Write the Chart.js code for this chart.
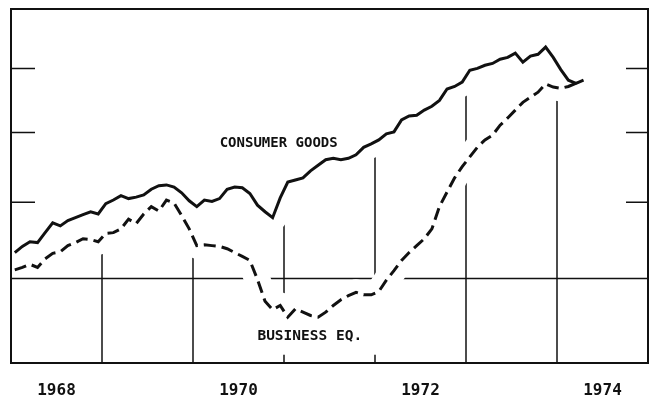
<!DOCTYPE html>
<html>
<head>
<meta charset="utf-8">
<script src="https://cdn.jsdelivr.net/npm/chart.js@4.4.1/dist/chart.umd.min.js"></script>
<style>
  html, body { margin: 0; padding: 0; background: #fff; }
  #wrap { width: 653px; height: 401px; }
</style>
</head>
<body>
<div id="wrap"><canvas id="chart" width="653" height="401"></canvas></div>
<script>
// ---- data ----
const years = [1968, 1969, 1970, 1971, 1972, 1973, 1974];
const monthNames = ["Jan", "Feb", "Mar", "Apr", "May", "Jun", "Jul", "Aug", "Sep", "Oct", "Nov", "Dec"];
const months = [];
years.forEach((y) => monthNames.forEach((m) => months.push(m + " " + y)));

const yearLabels = ["1968", "1970", "1972", "1974"];
const sideTicks = [110, 120, 130];
const baseValue = 100;

// index, ratio scale
const consumerGoods = [
    103.3, 104.1, 104.7, 104.6, 105.9, 107.2, 106.8, 107.5, 107.9, 108.3, 108.7, 108.4,
    109.8, 110.3, 110.9, 110.5, 110.7, 111.0, 111.8, 112.3, 112.4, 112.1, 111.3, 110.2,
    109.4, 110.3, 110.1, 110.5, 111.8, 112.1, 112.0, 111.2, 109.6, 108.7, 107.9, 110.6,
    112.8, 113.1, 113.4, 114.4, 115.2, 116.0, 116.2, 116.0, 116.2, 116.7, 117.8, 118.3,
    118.9, 119.8, 120.1, 121.9, 122.5, 122.6, 123.4, 124.0, 124.9, 126.7, 127.1, 127.8,
    129.7, 130.0, 130.5, 130.8, 131.5, 131.8, 132.5, 131.0, 132.0, 132.3, 133.5, 131.8,
    129.8, 128.1, 127.6, 128.1
];
const businessEq = [
    101.1, 101.4, 101.8, 101.4, 102.5, 103.2, 103.4, 104.2, 104.6, 105.1, 105.0, 104.7,
    105.8, 105.9, 106.4, 107.7, 107.1, 108.4, 109.4, 108.8, 110.3, 109.9, 108.2, 106.4,
    104.2, 104.3, 104.2, 104.1, 103.8, 103.3, 102.8, 102.3, 99.9, 97.2, 96.2, 96.7,
    95.3, 96.3, 95.9, 95.5, 95.3, 95.9, 96.7, 97.4, 97.9, 98.3, 98.0, 98.0,
    98.4, 99.8, 101.0, 102.3, 103.3, 104.2, 105.1, 106.4, 109.4, 111.4, 113.4, 115.0,
    116.4, 117.8, 118.9, 119.6, 121.1, 122.2, 123.4, 124.6, 125.4, 126.2, 127.5, 127.0,
    126.8, 127.1, 127.6
];

const INK = "#111";

// ---- frame, grid and labels drawn with the chart's scales ----
const plotterFrame = {
    id: "plotterFrame",
    beforeDatasetsDraw(chart) {
        const { ctx, chartArea: a, scales: { x, y } } = chart;
        ctx.save();
        ctx.strokeStyle = INK;
        ctx.lineWidth = 1.5;

        // reference line at 100
        const yb = y.getPixelForValue(baseValue);
        ctx.beginPath();
        ctx.moveTo(a.left, yb);
        ctx.lineTo(a.right, yb);
        ctx.stroke();

        // short ticks on both sides
        sideTicks.forEach((v) => {
            const py = y.getPixelForValue(v);
            ctx.beginPath();
            ctx.moveTo(a.left, py);
            ctx.lineTo(a.left + 24, py);
            ctx.moveTo(a.right - 22, py);
            ctx.lineTo(a.right, py);
            ctx.stroke();
        });

        // year boundaries: from the bottom up to the consumer goods line
        for (let k = 1; k < years.length; k++) {
            const i = 12 * k;
            const px = x.getPixelForValue(i - 0.5);
            const top = (y.getPixelForValue(consumerGoods[i - 1]) + y.getPixelForValue(consumerGoods[i])) / 2;
            ctx.beginPath();
            ctx.moveTo(px, a.bottom);
            ctx.lineTo(px, top);
            ctx.stroke();
        }

        // blank area behind the business equipment label
        const bx = x.getPixelForValue(38.9);
        const by = y.getPixelForValue(93.0);
        ctx.fillStyle = "#fff";
        ctx.fillRect(bx - 60, by - 37, 132, 55);
        ctx.restore();
    },
    afterDatasetsDraw(chart) {
        const { ctx, chartArea: a, scales: { x, y } } = chart;
        ctx.save();
        ctx.strokeStyle = INK;
        ctx.lineWidth = 2;
        ctx.strokeRect(a.left, a.top, a.right - a.left, a.bottom - a.top);

        ctx.fillStyle = INK;
        ctx.textAlign = "center";
        ctx.textBaseline = "middle";

        ctx.font = "bold 14px 'DejaVu Sans Mono'";
        ctx.fillText("CONSUMER GOODS", x.getPixelForValue(34.8), y.getPixelForValue(118.4));
        ctx.font = "bold 14.5px 'DejaVu Sans Mono'";
        ctx.fillText("BUSINESS EQ.", x.getPixelForValue(38.9), y.getPixelForValue(93.0));

        ctx.font = "bold 16px 'DejaVu Sans Mono'";
        yearLabels.forEach((label) => {
            const i = (parseInt(label, 10) - years[0]) * 12 + 5.5;
            ctx.fillText(label, x.getPixelForValue(i), a.bottom + 28);
        });
        ctx.restore();
    }
};

// the white halo that breaks the grid lines is left out at the very start
const haloSkipStart = (ctx) => (ctx.p0DataIndex < 6 ? "rgba(255,255,255,0)" : "#fff");

new Chart(document.getElementById("chart"), {
    type: "line",
    data: {
        labels: months,
        datasets: [
            {
                label: "Consumer goods",
                data: consumerGoods,
                borderColor: INK,
                borderWidth: 3,
                pointRadius: 0,
                tension: 0,
                order: 1
            },
            {
                label: "Business equipment",
                data: businessEq,
                borderColor: INK,
                borderWidth: 3,
                borderDash: [12, 6],
                pointRadius: 0,
                tension: 0,
                order: 1
            },
            {
                label: "halo1",
                data: consumerGoods,
                borderColor: "#fff",
                borderWidth: 28,
                borderCapStyle: "round",
                borderJoinStyle: "round",
                pointRadius: 0,
                tension: 0,
                order: 2
            },
            {
                label: "halo2",
                data: businessEq,
                borderColor: "#fff",
                borderWidth: 26,
                borderCapStyle: "round",
                borderJoinStyle: "round",
                pointRadius: 0,
                tension: 0,
                segment: { borderColor: haloSkipStart },
                order: 2
            }
        ]
    },
    options: {
        responsive: false,
        animation: false,
        devicePixelRatio: 1,
        events: [],
        layout: { padding: { left: 11, right: 5, top: 9, bottom: 38 } },
        plugins: { legend: { display: false }, tooltip: { enabled: false } },
        scales: {
            x: { type: "category", offset: true, display: false },
            y: { type: "logarithmic", min: 90, max: 140, display: false }
        }
    },
    plugins: [plotterFrame]
});
</script>
</body>
</html>
